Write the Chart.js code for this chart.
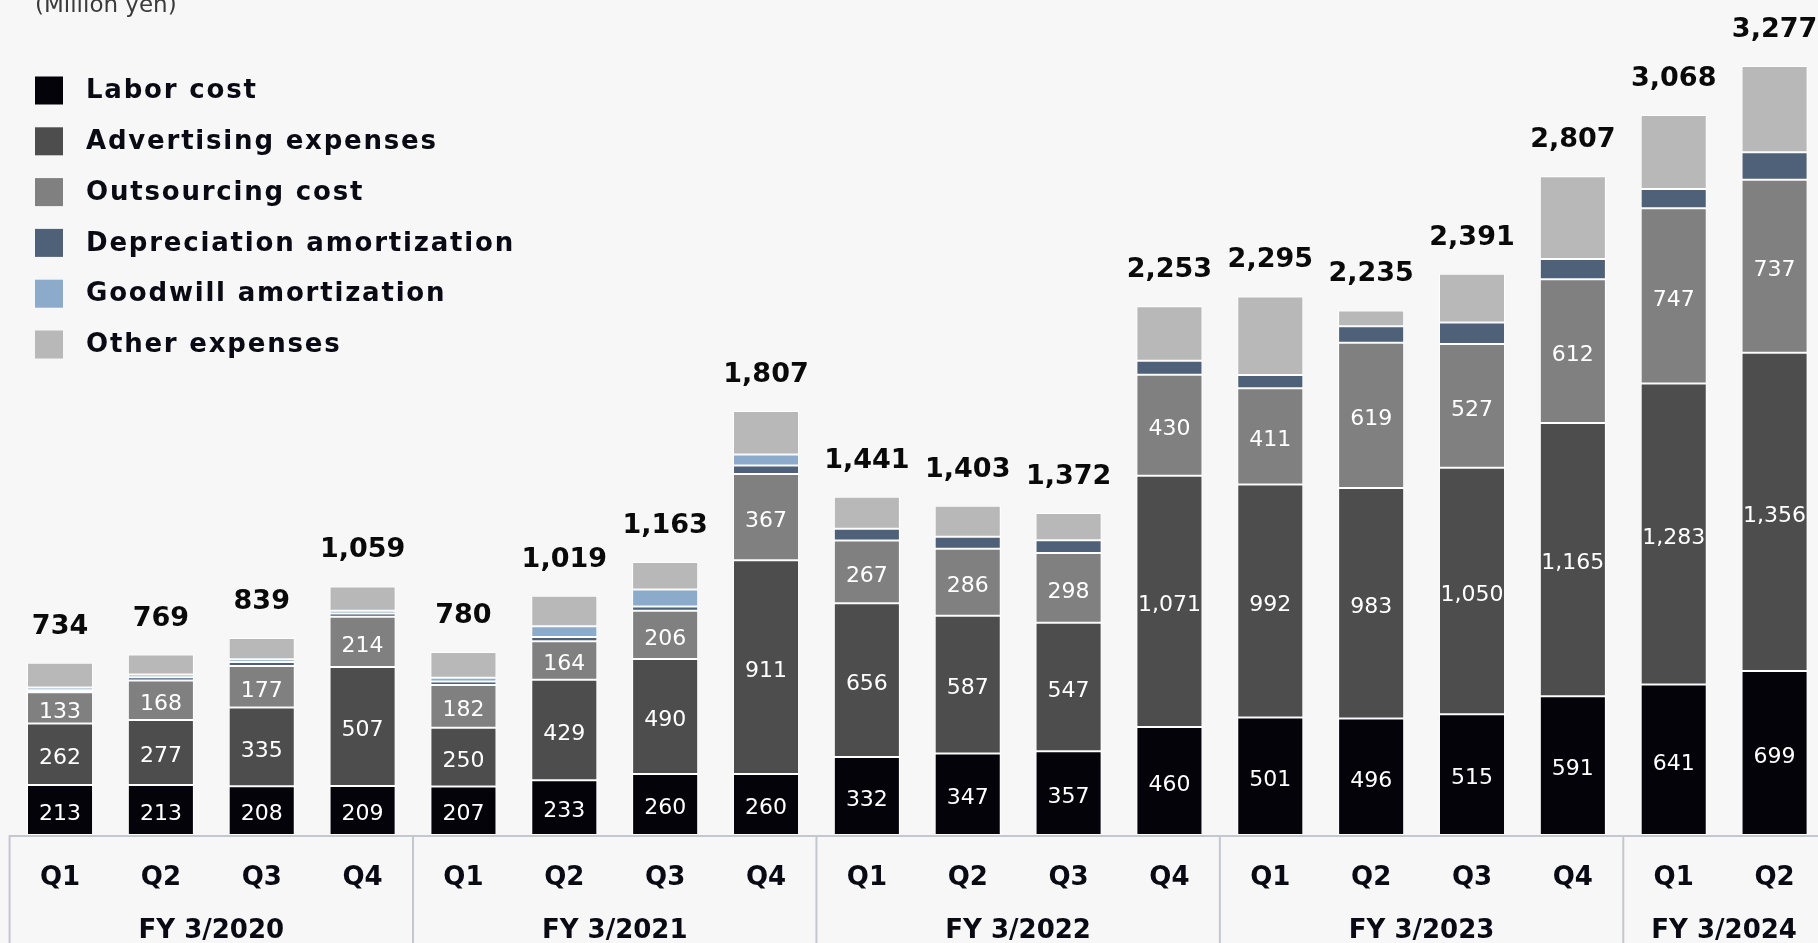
<!DOCTYPE html>
<html>
<head>
<meta charset="utf-8">
<script src="https://cdn.jsdelivr.net/npm/chart.js@4.4.1/dist/chart.umd.min.js"></script>
<style>
  html, body { margin: 0; padding: 0; background: #f7f7f7; overflow: hidden; }
  #wrap { position: relative; width: 1826px; height: 943px; }
</style>
</head>
<body>
<div id="wrap"><canvas id="costChart"></canvas></div>
<script>
// Quarterly cost breakdown (million yen)
const quarters = [
  'Q1', 'Q2', 'Q3', 'Q4',
  'Q1', 'Q2', 'Q3', 'Q4',
  'Q1', 'Q2', 'Q3', 'Q4',
  'Q1', 'Q2', 'Q3', 'Q4',
  'Q1', 'Q2',
];
const fiscalYears = ['FY 3/2020', 'FY 3/2021', 'FY 3/2022', 'FY 3/2023', 'FY 3/2024'];
const quartersPerYear = [4, 4, 4, 4, 2];

const laborCost = [213, 213, 208, 209, 207, 233, 260, 260, 332, 347, 357, 460, 501, 496, 515, 591, 641, 699];
const advertising = [262, 277, 335, 507, 250, 429, 490, 911, 656, 587, 547, 1071, 992, 983, 1050, 1165, 1283, 1356];
const outsourcing = [133, 168, 177, 214, 182, 164, 206, 367, 267, 286, 298, 430, 411, 619, 527, 612, 747, 737];
const depreciation = [9, 14, 17, 14, 15, 18, 18, 36, 50, 51, 54, 60, 56, 70, 92, 86, 82, 117];
const goodwill = [12, 12, 12, 12, 16, 45, 72, 47, 0, 0, 0, 0, 0, 0, 0, 0, 0, 0];
const otherExpenses = [105, 85, 90, 103, 110, 130, 117, 186, 136, 132, 116, 232, 335, 67, 207, 353, 315, 368];

const seriesNames = [
  'Labor cost',
  'Advertising expenses',
  'Outsourcing cost',
  'Depreciation amortization',
  'Goodwill amortization',
  'Other expenses',
];
const seriesColors = ['#05030a', '#4d4d4d', '#808080', '#4f6178', '#8cabcb', '#b8b8b8'];
const seriesData = [laborCost, advertising, outsourcing, depreciation, goodwill, otherExpenses];

const FONT = '"DejaVu Sans", Verdana, sans-serif';
const fmt = (v) => v.toLocaleString('en-US');

// background, separators, value labels, year labels and legend
const decorations = {
  id: 'decorations',
  beforeDraw(chart) {
    const { ctx, width, height } = chart;
    ctx.save();
    ctx.fillStyle = '#f7f7f7';
    ctx.fillRect(0, 0, width, height);
    ctx.restore();
  },
  afterDatasetsDraw(chart) {
    const { ctx, chartArea } = chart;
    const xs = chart.scales.x;
    const step = xs.getPixelForValue(1) - xs.getPixelForValue(0);
    const leftEdge = xs.getPixelForValue(0) - step / 2;
    const base = chartArea.bottom;

    ctx.save();
    // axis line and fiscal-year dividers
    ctx.strokeStyle = '#c3c7ce';
    ctx.lineWidth = 2;
    ctx.beginPath();
    ctx.moveTo(leftEdge, base + 1);
    ctx.lineTo(chart.width, base + 1);
    let idx = 0;
    const boundaries = [leftEdge];
    quartersPerYear.forEach((n) => {
      idx += n;
      boundaries.push(xs.getPixelForValue(idx - 1) + step / 2);
    });
    boundaries.slice(0, -1).forEach((bx) => {
      ctx.moveTo(bx, base);
      ctx.lineTo(bx, chart.height);
    });
    ctx.stroke();

    // fiscal year labels
    ctx.fillStyle = '#0a0a14';
    ctx.font = `bold 26px ${FONT}`;
    ctx.textAlign = 'center';
    ctx.textBaseline = 'middle';
    idx = 0;
    fiscalYears.forEach((fy, k) => {
      const first = xs.getPixelForValue(idx);
      const last = xs.getPixelForValue(idx + quartersPerYear[k] - 1);
      ctx.fillText(fy, (first + last) / 2, base + 96);
      idx += quartersPerYear[k];
    });

    // values inside the three main segments
    ctx.font = `22px ${FONT}`;
    ctx.fillStyle = '#ffffff';
    [0, 1, 2].forEach((di) => {
      const meta = chart.getDatasetMeta(di);
      meta.data.forEach((bar, i) => {
        const v = chart.data.datasets[di].data[i];
        ctx.fillText(fmt(v), bar.x, (bar.y + bar.base) / 2 + 4);
      });
    });

    // stack totals
    ctx.font = `bold 27px ${FONT}`;
    ctx.fillStyle = '#0a0a0a';
    ctx.textBaseline = 'alphabetic';
    const topMeta = chart.getDatasetMeta(chart.data.datasets.length - 1);
    topMeta.data.forEach((bar, i) => {
      const total = seriesData.reduce((s, arr) => s + arr[i], 0);
      ctx.fillText(fmt(total), bar.x, bar.y - 29);
    });

    // unit note
    ctx.font = `23px ${FONT}`;
    ctx.fillStyle = '#3a3a3a';
    ctx.textAlign = 'left';
    ctx.fillText('(Million yen)', 35, 12);

    // legend
    ctx.font = `bold 26px ${FONT}`;
    ctx.textBaseline = 'middle';
    if ('letterSpacing' in ctx) ctx.letterSpacing = '1.8px';
    chart.data.datasets.forEach((ds, i) => {
      const cy = 90.5 + i * 50.8;
      ctx.fillStyle = ds.backgroundColor;
      ctx.fillRect(35, cy - 14, 28, 28);
      ctx.fillStyle = '#0a0a14';
      ctx.fillText(ds.label, 86, cy + 1);
    });
    ctx.restore();
  },
};

const canvas = document.getElementById('costChart');
canvas.width = 1826;
canvas.height = 943;

new Chart(canvas.getContext('2d'), {
  type: 'bar',
  data: {
    labels: quarters,
    datasets: seriesData.map((data, i) => ({
      label: seriesNames[i],
      data: data,
      backgroundColor: seriesColors[i],
      borderColor: '#ffffff',
      borderWidth: 1,
      borderSkipped: false,
      barPercentage: 0.655,
      categoryPercentage: 1.0,
    })),
  },
  options: {
    responsive: false,
    animation: false,
    devicePixelRatio: 1,
    layout: { padding: { left: 9.6, right: 1, top: 0, bottom: 0 } },
    plugins: {
      legend: { display: false },
      tooltip: { enabled: false },
    },
    scales: {
      x: {
        stacked: true,
        grid: { display: false, drawTicks: false },
        border: { display: false },
        ticks: {
          color: '#0a0a14',
          font: { family: FONT, size: 26, weight: 'bold' },
          padding: 28,
          maxRotation: 0,
          autoSkip: false,
        },
        afterFit(scale) {
          scale.height = 108;
        },
      },
      y: {
        stacked: true,
        display: false,
        min: 0,
        max: 3558,
      },
    },
  },
  plugins: [decorations],
});
</script>
</body>
</html>
